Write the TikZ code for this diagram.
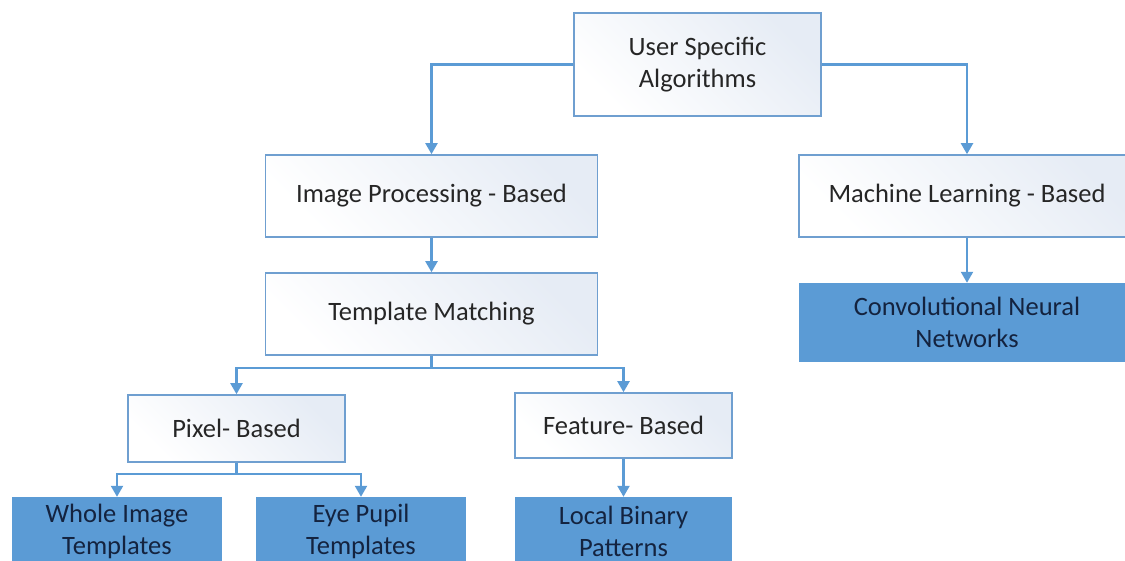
\documentclass[tikz,border=0pt]{standalone}
\usepackage{fontspec}
\setmainfont{Carlito}
\usetikzlibrary{arrows.meta}
\definecolor{lineblue}{HTML}{5B9BD5}
\definecolor{edgeblue}{HTML}{6F9FD0}
\definecolor{fillblue}{HTML}{5B9BD5}
\definecolor{lightbg}{HTML}{E6ECF5}
\definecolor{txtgray}{HTML}{262626}
\definecolor{txtnavy}{HTML}{14233F}
\tikzset{
  whitebox/.style={draw=edgeblue, line width=1.6pt, shading=axis, left color=white, right color=lightbg, shading angle=135,
    inner sep=0pt, align=center, text=txtgray, font=\fontsize{26.5}{32}\selectfont},
  bluebox/.style={draw=none, fill=fillblue, inner sep=0pt, align=center, text=txtnavy, font=\fontsize{26.5}{32}\selectfont},
  conn/.style={draw=lineblue, line width=2.2pt, -{Triangle[width=12pt,length=11pt]}},
  plainconn/.style={draw=lineblue, line width=2.2pt}
}
\begin{document}
\begin{tikzpicture}[x=1pt,y=-1pt]
\useasboundingbox (0,0) rectangle (1125,561);
\begin{scope}
\clip (0,0) rectangle (1125,561);
\node[whitebox, minimum width=247pt, minimum height=103pt] (user) at (697.5,64.5) {User Specific\\Algorithms};
\node[whitebox, minimum width=332pt, minimum height=82pt] (ipb) at (431.5,196) {Image Processing - Based};
\node[whitebox, minimum width=336pt, minimum height=82pt] (ml) at (967,196) {Machine Learning - Based};
\node[whitebox, minimum width=332pt, minimum height=82pt] (tm) at (431.5,314) {Template Matching};
\node[bluebox, minimum width=336pt, minimum height=79pt] (cnn) at (967,322.5) {Convolutional Neural\\Networks};
\node[whitebox, minimum width=217pt, minimum height=67pt] (pix) at (236.5,428.5) {Pixel- Based};
\node[whitebox, minimum width=217pt, minimum height=65pt] (feat) at (623.5,425.5) {Feature- Based};
\node[bluebox, minimum width=210pt, minimum height=68pt] (whole) at (117,531) {Whole Image\\Templates};
\node[bluebox, minimum width=210pt, minimum height=68pt] (eye) at (361,531) {Eye Pupil\\Templates};
\node[bluebox, minimum width=217pt, minimum height=68pt] (lbp) at (623.5,531) {Local Binary\\Patterns};

\draw[conn] (user.west) -| (ipb.north);
\draw[conn] (user.east) -| (ml.north);
\draw[conn] (ipb.south) -- (tm.north);
\draw[conn] (ml.south) -- (cnn.north);
\coordinate (tmb) at ([yshift=-12pt]tm.south);
\draw[plainconn] (tm.south) -- (tmb);
\draw[conn] (tmb) -| (pix.north);
\draw[conn] (tmb) -| (feat.north);
\coordinate (pixb) at ([yshift=-11pt]pix.south);
\draw[plainconn] (pix.south) -- (pixb);
\draw[conn] (pixb) -| (whole.north);
\draw[conn] (pixb) -| (eye.north);
\draw[conn] (feat.south) -- (lbp.north);
\end{scope}
\end{tikzpicture}
\end{document}
